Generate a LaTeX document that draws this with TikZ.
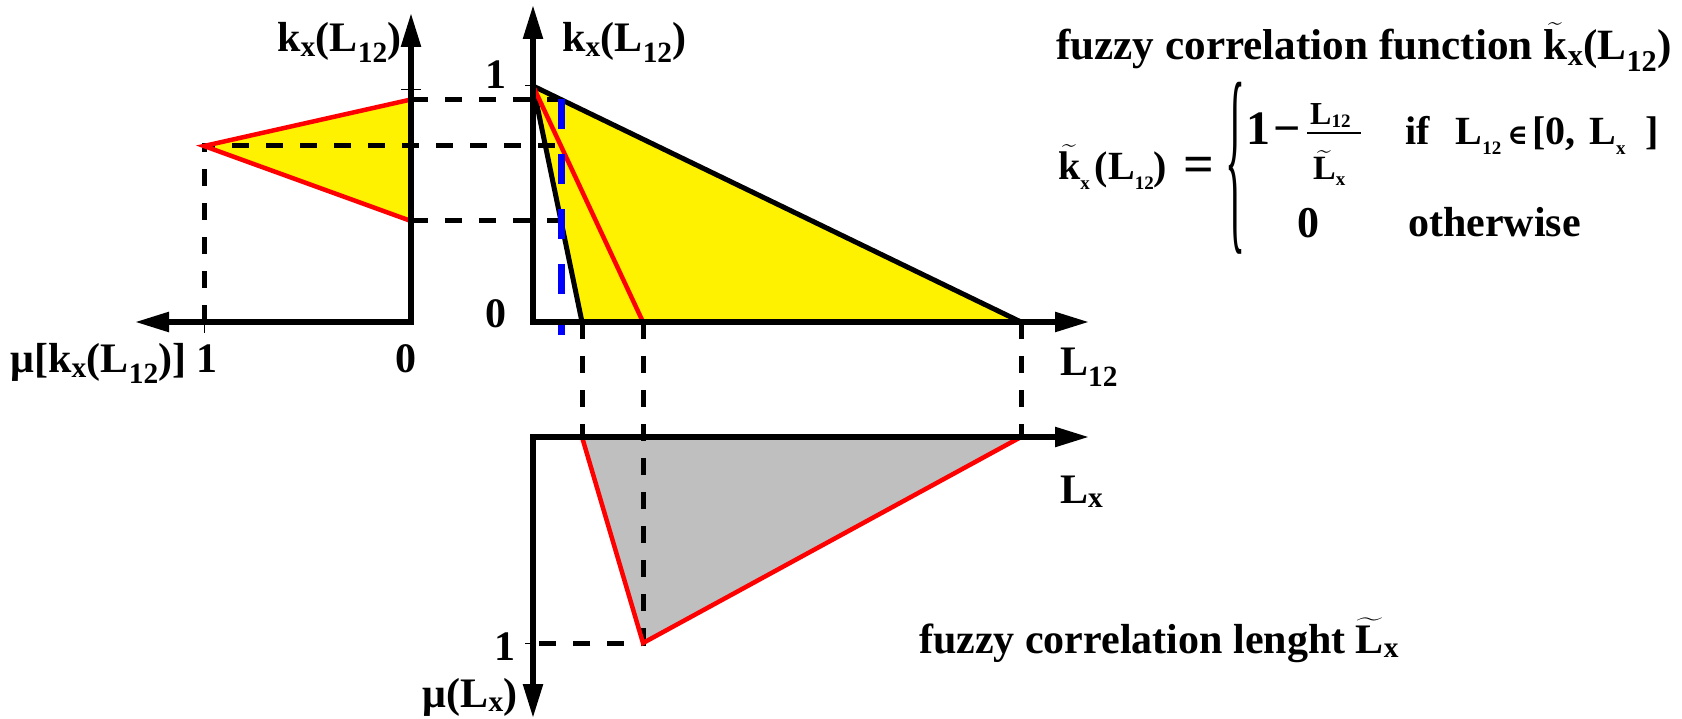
\documentclass[tikz,border=0pt]{standalone}
\usepackage{fontspec}
\setmainfont{Liberation Serif}
\newfontfamily\symf{DejaVu Serif}
\usepackage{amsmath}
\usepackage{graphicx}
\usetikzlibrary{arrows.meta}

\newcommand{\sbs}[1]{\textsubscript{#1}}
\newcommand{\tld}[1]{\ensuremath{\widetilde{\text{#1}}}}
% small lowered index of the formula
\newcommand{\fsub}[2][-10pt]{\raisebox{#1}{\fontsize{19}{19}\selectfont #2}}

\tikzset{
  axisboth/.style={line width=5.5pt, line join=miter, {Triangle[length=34pt,width=19pt]}-{Triangle[length=34pt,width=19pt]}},
  guide/.style={line width=5pt, dash pattern=on 17pt off 17pt},
  cut/.style={blue, line width=7pt, dash pattern=on 30pt off 25pt},
  edge/.style={red, line width=4.5pt},
  border/.style={line width=5pt},
  tick/.style={line width=1pt},
  lbl/.style={font=\fontsize{42}{48}\selectfont\bfseries, inner sep=0pt},
  fml/.style={font=\fontsize{40}{44}\selectfont\bfseries, inner sep=0pt, anchor=base west},
}

\begin{document}
\begin{tikzpicture}[x=1pt,y=-1pt]
\useasboundingbox (0,0) rectangle (1682,719);

% fills
\fill[yellow] (204,146) -- (411,99.5) -- (411,221) -- cycle;
\fill[yellow] (533,86) -- (1021,322) -- (582,322) -- cycle;
\fill[black!25] (582,437) -- (643,643) -- (1021,437) -- cycle;

% dashed guides
\draw[guide] (204,322) -- (204,146) -- (561,146);
\draw[guide] (411,99.5) -- (561,99.5);
\draw[guide] (411,221) -- (561,221);
\draw[guide] (582,322) -- (582,437);
\draw[guide] (643,322) -- (643,643) -- (533,643);
\draw[guide] (1021,322) -- (1021,437);

% membership of k_x
\draw[edge] (411,99.5) -- (204,146) -- (411,221);

% correlation functions
\draw[border] (533,86) -- (1021,322);
\draw[border] (533,86) -- (582,322);
\draw[edge] (533,86) -- (643,322);
\draw[cut] (561,99.5) -- (561,335);

% fuzzy length
\draw[edge] (582,437) -- (643,643) -- (1021,437);

% axes
\draw[axisboth] (411,13) -- (411,322) -- (135,322);
\draw[axisboth] (533,5) -- (533,322) -- (1089,322);
\draw[axisboth] (533,718) -- (533,437) -- (1089,437);

% ticks
\draw[tick] (401,90) -- (421,90);
\draw[tick] (204,322) -- (204,333);
\draw[tick] (525,86) -- (533,86);
\draw[tick] (525,643) -- (533,643);

% labels
\node[lbl, anchor=base east] (kleft) at (402,52) {k\sbs{x}(L\sbs{12})};
\node[lbl, anchor=base west] (kmain) at (562,52) {k\sbs{x}(L\sbs{12})};
\node[lbl] (kone) at (496,75) {1};
\node[lbl] (kzero) at (496,314) {0};
\node[lbl, anchor=base east] (mulbl) at (187,373) {μ[k\sbs{x}(L\sbs{12})]};
\node[lbl, anchor=base] (muone) at (207,373) {1};
\node[lbl, anchor=base] (muzero) at (406,373) {0};
\node[lbl, anchor=base west] (lonetwo) at (1060,376) {L\sbs{12}};
\node[lbl, anchor=base west] (lx) at (1060,503) {L\sbs{x}};
\node[lbl] (lxone) at (505,647) {1};
\node[lbl, anchor=base east] (mulx) at (518,707) {μ(L\sbs{x})};
\node[lbl, anchor=base west] (lenght) at (919,653) {fuzzy correlation lenght \tld{L}\sbs{x}};
\node[lbl, anchor=base west, font=\fontsize{43.2}{48}\selectfont\bfseries] (func) at (1056,60)
  {fuzzy correlation function \tld{k}\sbs{x}(L\sbs{12})};

% definition of the fuzzy correlation function
\node[fml] (klhs) at (1058,180) {\tld{k}\fsub{x}\hspace{5pt}(L\fsub{12})};
\node[fml, anchor=center, font=\fontsize{54}{56}\selectfont\bfseries] (eq) at (1199,170) {=};
\node[inner sep=0pt] (brace) at (1235,168)
  {\resizebox*{20pt}{172pt}{\fontsize{40}{44}\selectfont\mdseries\{}};
\node[fml, font=\fontsize{48}{50}\selectfont\bfseries] (rowone) at (1246,145) {1\hspace{3pt}−};
\node[fml, font=\fontsize{32}{34}\selectfont\bfseries] (num) at (1310,125) {L\fsub[-3pt]{12}};
\draw[line width=1.5pt] (1307,133) -- (1361,133);
\node[fml, font=\fontsize{34}{36}\selectfont\bfseries] (den) at (1313,180) {\tld{L}\fsub[-6pt]{x}};
\node[fml] (cond) at (1405,145)
  {if\hspace{26pt}L\fsub{12}\hspace{6pt}{\symf\fontsize{28}{28}\selectfont ∈}\hspace{4pt}[0,\hspace{14pt}L\fsub{x}\hspace{20pt}]};
\node[fml, font=\fontsize{44}{46}\selectfont\bfseries] (zero) at (1297,238) {0};
\node[fml, font=\fontsize{42}{46}\selectfont\bfseries] (other) at (1408,237) {otherwise};
\end{tikzpicture}
\end{document}
